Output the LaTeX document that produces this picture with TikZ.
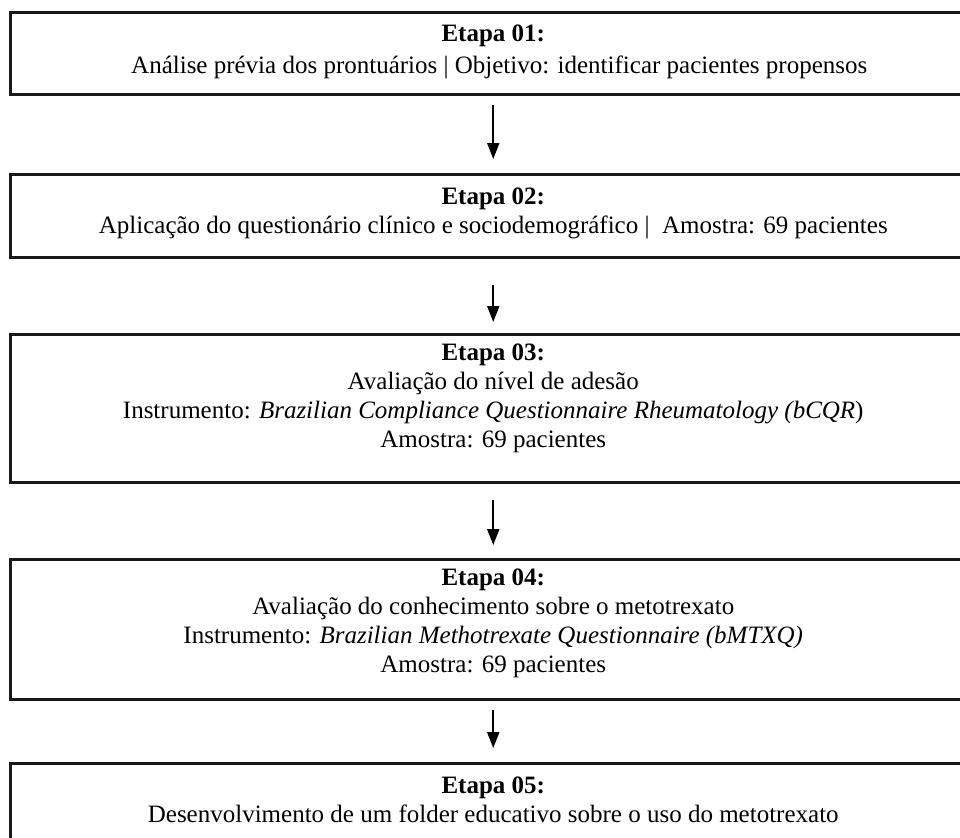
\documentclass[tikz,border=0pt]{standalone}
\usepackage{fontspec}
\setmainfont{Liberation Serif}
\usetikzlibrary{arrows.meta}
\begin{document}
\begin{tikzpicture}[x=0.5pt,y=-0.5pt,
  stage/.style={draw=black!90, line width=1.25pt, rectangle, anchor=north west,
    minimum width=483pt, inner sep=0pt},
  stagetext/.style={anchor=north, inner sep=0pt, align=center,
    font=\fontsize{12.5}{14.5}\selectfont},
  flow/.style={line width=1pt, -{Triangle[length=8pt,width=6pt]}}]
\useasboundingbox (0,0) rectangle (960,837);
\fill[white] (0,0) rectangle (960,837);
% boxes
\node[stage, minimum height=41pt] (b1) at (9,11) {};
\node[stage, minimum height=41.5pt] (b2) at (9,173) {};
\node[stage, minimum height=74pt] (b3) at (9,333) {};
\node[stage, minimum height=70pt] (b4) at (9,558) {};
\node[stage, minimum height=49pt] (b5) at (9,762) {};
% texts
\node[stagetext, yshift=-6.5pt] (t1) at (b1.north)
  {\textbf{Etapa 01:}\\[1.5pt] \hspace*{6pt}Análise prévia dos prontuários | Objetivo: identificar pacientes propensos};
\node[stagetext, yshift=-7pt] (t2) at (b2.north)
  {\textbf{Etapa 02:}\\ Aplicação do questionário clínico e sociodemográfico |\ \ Amostra: 69 pacientes};
\node[stagetext, yshift=-5pt] (t3) at (b3.north)
  {\textbf{Etapa 03:}\\ Avaliação do nível de adesão\\ Instrumento: \textit{Brazilian Compliance Questionnaire Rheumatology (bCQR})\\ Amostra: 69 pacientes};
\node[stagetext, yshift=-5pt] (t4) at (b4.north)
  {\textbf{Etapa 04:}\\ Avaliação do conhecimento sobre o metotrexato\\ Instrumento: \textit{Brazilian Methotrexate Questionnaire (bMTXQ)}\\ Amostra: 69 pacientes};
\node[stagetext, yshift=-7pt] (t5) at (b5.north)
  {\textbf{Etapa 05:}\\ Desenvolvimento de um folder educativo sobre o uso do metotrexato};
% connectors
\draw[flow] ([yshift=-4.5pt]b1.south) -- ([yshift=7pt]b2.north);
\draw[flow] ([yshift=-13pt]b2.south) -- ([yshift=5.5pt]b3.north);
\draw[flow] ([yshift=-8pt]b3.south) -- ([yshift=6.5pt]b4.north);
\draw[flow] ([yshift=-4.5pt]b4.south) -- ([yshift=7pt]b5.north);
\end{tikzpicture}
\end{document}
